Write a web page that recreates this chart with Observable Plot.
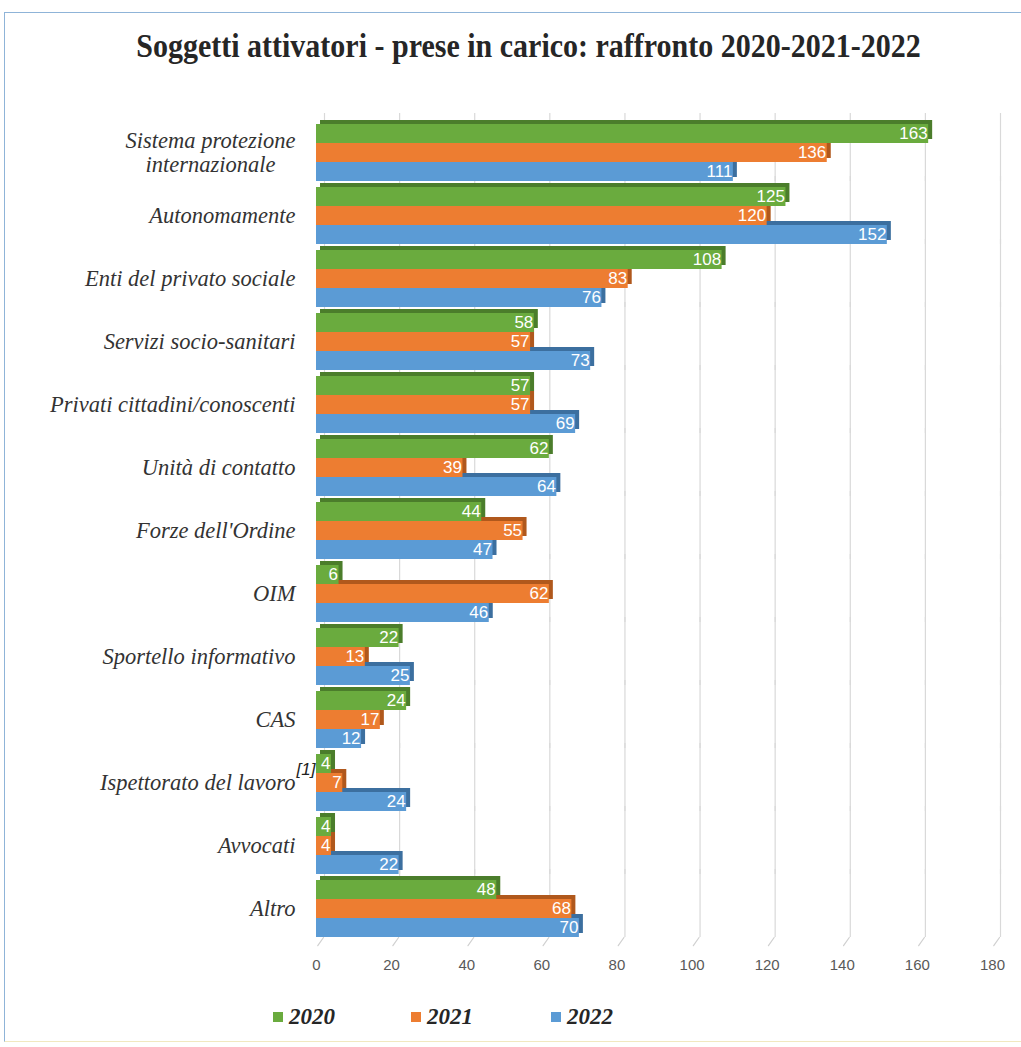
<!DOCTYPE html>
<html>
<head>
<meta charset="utf-8">
<script src="https://cdn.jsdelivr.net/npm/d3@7"></script>
<script src="https://cdn.jsdelivr.net/npm/@observablehq/plot@0.6"></script>
<style>
  html, body { margin: 0; padding: 0; background: #fff; }
  body { width: 1021px; height: 1047px; overflow: hidden; position: relative; }
  #frame { position: absolute; left: 4px; top: 12px; width: 1030px; height: 1028px;
           border-top: 1px solid #8fb4d8; border-left: 1px solid #8fb4d8; border-bottom: 1px solid #f1e8c0;
           pointer-events: none; }
  #title { height: 95px; box-sizing: border-box; padding-top: 28px; padding-left: 36px; text-align: center; }
  #title span { display: inline-block; font-family: "Liberation Serif", serif; font-weight: bold;
                font-size: 30px; line-height: 34px; color: #262626; transform: scaleY(1.15); }
  #chart svg { display: block; }
  #legend { position: relative; height: 65px; }
  .item { position: absolute; top: 22px; display: flex; align-items: center;
          font-family: "Liberation Serif", serif; font-weight: bold; font-style: italic; font-size: 23px; color: #262626; }
  .sw { width: 10px; height: 10px; margin-right: 6px; }
</style>
</head>
<body>
<div id="frame"></div>
<div id="title"><span>Soggetti attivatori - prese in carico: raffronto 2020-2021-2022</span></div>
<div id="chart"></div>
<div id="legend"></div>
<script>
const title = "Soggetti attivatori - prese in carico: raffronto 2020-2021-2022";
const years = ["2020", "2021", "2022"];
const categories = [
  "Sistema protezione\ninternazionale",
  "Autonomamente",
  "Enti del privato sociale",
  "Servizi socio-sanitari",
  "Privati cittadini/conoscenti",
  "Unità di contatto",
  "Forze dell'Ordine",
  "OIM",
  "Sportello informativo",
  "CAS",
  "Ispettorato del lavoro",
  "Avvocati",
  "Altro"
];
const values2020 = [163, 125, 108, 58, 57, 62, 44, 6, 22, 24, 4, 4, 48];
const values2021 = [136, 120, 83, 57, 57, 39, 55, 62, 13, 17, 7, 4, 68];
const values2022 = [111, 152, 76, 73, 69, 64, 47, 46, 25, 12, 24, 22, 70];
const xTicks = [0, 20, 40, 60, 80, 100, 120, 140, 160, 180];
const notes = [{cat: "Ispettorato del lavoro", year: "2020", value: 0, text: "[1]"}];

const colors = {"2020": "#6aab3e", "2021": "#ed7d31", "2022": "#5b9bd5"};
const darkColors = {"2020": "#4b7d2b", "2021": "#b0581c", "2022": "#3c6f9f"};

const series = [values2020, values2021, values2022];
const data = categories.flatMap((c, i) => years.map((y, j) => ({cat: c, year: y, value: series[j][i]})));

const multiLine = categories.filter(c => c.includes("\n"));

const legend = document.getElementById("legend");
const legendLeft = [273, 411, 551];
years.forEach((y, i) => {
  const it = document.createElement("div");
  it.className = "item";
  it.style.left = legendLeft[i] + "px";
  it.innerHTML = `<span class="sw" style="background:${colors[y]}"></span>${y}`;
  legend.appendChild(it);
});

const lineShape = { draw(context, l) { context.moveTo(0, 0); context.lineTo(0, -l); } };
const labelStyle = {fontSize: 22.5, fontFamily: "Liberation Serif, serif", fontStyle: "italic", fill: "#333", lineHeight: 1.05};

const chart = Plot.plot({
  width: 1021,
  height: 887,
  marginLeft: 316,
  marginRight: 29,
  marginTop: 23,
  marginBottom: 40,
  style: {fontFamily: "Liberation Sans, sans-serif", fontSize: "13px", color: "#595959", background: "transparent"},
  x: {domain: [0, 180], axis: null},
  y: {domain: years, axis: null, padding: 0},
  fy: {domain: categories, axis: null, paddingInner: 0.08, paddingOuter: 0.02},
  color: {type: "identity"},
  marks: [
    Plot.ruleX(xTicks, {x: d => d, stroke: "#d9d9d9", strokeWidth: 1.2, dx: 8, insetTop: -10}),
    Plot.vector(xTicks, {x: d => d, fy: () => categories[categories.length - 1], frameAnchor: "bottom",
      length: 10, rotate: 215, anchor: "start", dx: 7, stroke: "#d0d0d0", strokeWidth: 1.2, shape: lineShape}),
    Plot.barX(data, {fy: "cat", y: "year", x: "value", fill: d => darkColors[d.year], dx: 4, dy: -4}),
    Plot.barX(data, {fy: "cat", y: "year", x: "value", fill: d => colors[d.year]}),
    Plot.text(data, {fy: "cat", y: "year", x: "value", text: d => String(d.value), textAnchor: "end",
      dx: -1, fill: "white", fontSize: 17, fontFamily: "Liberation Sans, sans-serif"}),
    Plot.text(notes, {fy: "cat", y: "year", x: "value", text: "text", textAnchor: "end", dx: -1, dy: 6,
      fill: "#222", fontSize: 17, fontStyle: "italic", fontFamily: "Liberation Sans, sans-serif"}),
    Plot.axisFy({anchor: "left", tickSize: 0, tickPadding: 21, label: null,
      tickFormat: d => d.includes("\n") ? "" : d, ...labelStyle}),
    Plot.text(multiLine, {fy: d => d, text: d => d, frameAnchor: "left", textAnchor: "middle", dx: -106, ...labelStyle}),
    Plot.axisX(xTicks, {anchor: "bottom", tickSize: 0, tickPadding: 22, label: null, fontSize: 15,
      fill: "#595959"})
  ]
});
document.getElementById("chart").appendChild(chart);
</script>
</body>
</html>
